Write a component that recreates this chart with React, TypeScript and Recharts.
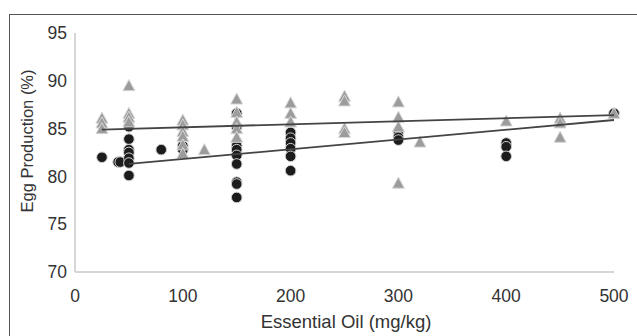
import { ScatterChart, Scatter, XAxis, YAxis } from "recharts";

// dose (mg/kg) and egg production (%)
const circleX = [25, 40, 42, 50, 50, 50, 50, 50, 50, 50, 80, 100, 100, 150, 150, 150, 150, 150, 150, 150, 150, 150, 200, 200, 200, 200, 200, 200, 300, 300, 300, 400, 400, 400, 500];
const circleY = [82.0, 81.5, 81.5, 85.2, 83.9, 82.8, 82.5, 81.9, 81.4, 80.1, 82.8, 83.2, 82.8, 86.6, 83.2, 82.8, 82.2, 81.3, 79.4, 79.2, 77.8, 85.2, 84.6, 84.0, 83.5, 82.9, 82.1, 80.6, 84.7, 84.1, 83.8, 83.5, 83.1, 82.1, 86.6];

const triX = [25, 25, 25, 50, 50, 50, 50, 100, 100, 100, 100, 100, 100, 120, 150, 150, 150, 150, 150, 200, 200, 200, 250, 250, 250, 250, 300, 300, 300, 300, 320, 400, 450, 450, 450, 500];
const triY = [86.1, 85.6, 85.0, 89.5, 86.6, 86.2, 85.7, 85.9, 85.4, 84.7, 84.2, 83.3, 82.4, 82.8, 88.1, 86.7, 85.7, 85.0, 84.1, 87.7, 86.6, 85.7, 88.4, 87.9, 85.0, 84.6, 87.8, 86.2, 85.2, 79.3, 83.6, 85.8, 86.1, 85.6, 84.1, 86.6];

// fitted trend lines (end points)
const trendTriX = [25, 500];
const trendTriY = [84.9, 86.4];
const trendCircX = [50, 500];
const trendCircY = [81.3, 85.9];

const xTicks = [0, 100, 200, 300, 400, 500];
const yTicks = [70, 75, 80, 85, 90, 95];

const circles = circleX.map((x, i) => ({ x, y: circleY[i] }));
const triangles = triX.map((x, i) => ({ x, y: triY[i] }));
const trendTri = trendTriX.map((x, i) => ({ x, y: trendTriY[i] }));
const trendCirc = trendCircX.map((x, i) => ({ x, y: trendCircY[i] }));

const font = "'Liberation Sans', Arial, sans-serif";
const tickStyle = { fontSize: 17.5, fill: "#333", fontFamily: font };

const Circle = (props: any) => (
  <circle cx={props.cx} cy={props.cy} r={5.3} fill="#1c1c1c" stroke="#d0d0d0" strokeWidth={1} />
);

const Triangle = (props: any) => {
  const { cx, cy } = props;
  const s = 6;
  return (
    <polygon
      points={`${cx},${cy - s} ${cx - s},${cy + s * 0.85} ${cx + s},${cy + s * 0.85}`}
      fill="#9c9c9c"
      stroke="#d8d8d8"
      strokeWidth={1}
    />
  );
};

export default function App() {
  return (
    <div style={{ position: "absolute", left: 0, top: 0, width: 637, height: 336, overflow: "hidden", background: "#fff" }}>
      <div style={{ position: "absolute", left: 9, top: 14, width: 660, height: 360, border: "1px solid #555", boxSizing: "border-box" }} />
      <div style={{ position: "absolute", left: 0, top: 0 }}>
        <ScatterChart width={637} height={336} margin={{ top: 33, right: 23, left: 15, bottom: 14 }}>
          <XAxis
            type="number"
            dataKey="x"
            domain={[0, 500]}
            ticks={xTicks}
            tickLine={false}
            tickMargin={12}
            height={50}
            axisLine={{ stroke: "#c8c8c8", strokeWidth: 1.5 }}
            tick={tickStyle}
            label={{
              content: () => (
                <text x={346} y={321} textAnchor="middle" dominantBaseline="central" fontSize={18.5} fill="#333" fontFamily={font}>
                  Essential Oil (mg/kg)
                </text>
              ),
            }}
          />
          <YAxis
            type="number"
            dataKey="y"
            domain={[70, 95]}
            ticks={yTicks}
            tickLine={false}
            width={60}
            axisLine={{ stroke: "#c8c8c8", strokeWidth: 1.5 }}
            tick={tickStyle}
            label={{
              content: () => (
                <text x={27} y={141} transform="rotate(-90 27 141)" textAnchor="middle" dominantBaseline="central" fontSize={16.5} fill="#333" fontFamily={font}>
                  Egg Production (%)
                </text>
              ),
            }}
          />
          <Scatter data={circles} shape={Circle} isAnimationActive={false} />
          <Scatter data={triangles} shape={Triangle} isAnimationActive={false} />
          <Scatter data={trendTri} line={{ stroke: "#444", strokeWidth: 1.8 }} shape={() => <g />} isAnimationActive={false} />
          <Scatter data={trendCirc} line={{ stroke: "#444", strokeWidth: 1.8 }} shape={() => <g />} isAnimationActive={false} />
        </ScatterChart>
      </div>
    </div>
  );
}
